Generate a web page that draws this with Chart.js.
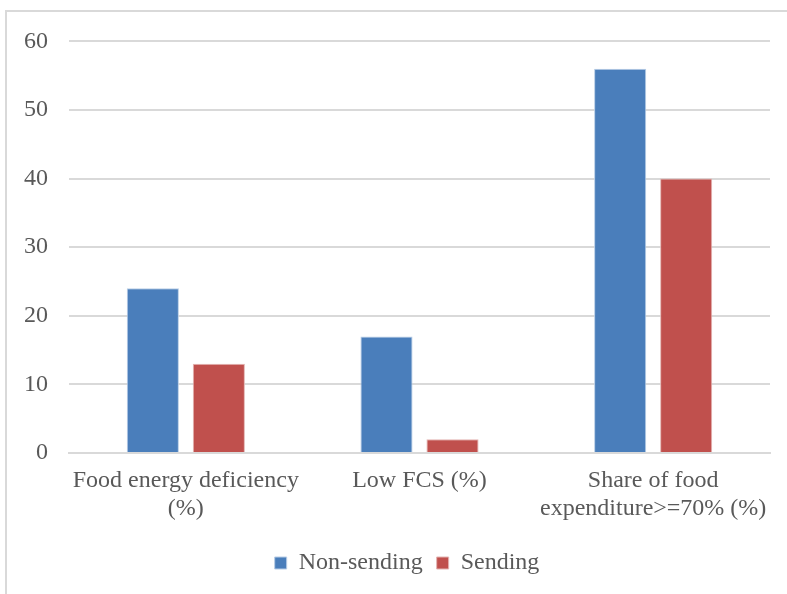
<!DOCTYPE html>
<html>
<head>
<meta charset="utf-8">
<script src="https://cdn.jsdelivr.net/npm/chart.js@4/dist/chart.umd.min.js"></script>
<style>
  html, body { margin: 0; padding: 0; background: #fff; }
  #frame {
    position: absolute; left: 5px; top: 10px; width: 790px; height: 600px;
    border-left: 2px solid #d9d9d9; border-top: 2px solid #d9d9d9;
  }
  #wrap { position: absolute; left: 7px; top: 6px; width: 780px; height: 588px; }
</style>
</head>
<body>
<div id="frame"></div>
<div id="wrap"><canvas id="canv"></canvas></div>
<script>
const categories = [
  ['Food energy deficiency', '(%)'],
  'Low FCS (%)',
  ['Share of food', 'expenditure>=70% (%)']
];
const nonSending = [24, 17, 56];
const sending = [13, 2, 40];
const yTicks = [0, 10, 20, 30, 40, 50, 60];

const serif = '"Liberation Serif", "Times New Roman", serif';
const grey = '#595959';

// left padding is only there to centre the legend; let the y labels use that space
const widenYAxis = {
  id: 'widenYAxis',
  afterLayout: (chart) => { chart.scales.y.left -= 37; }
};

let ctx = document.getElementById('canv').getContext('2d');
new Chart(ctx, {
  type: 'bar',
  plugins: [widenYAxis],
  data: {
    labels: categories,
    datasets: [
      {
        label: 'Non-sending',
        data: nonSending,
        backgroundColor: '#4a7ebb',
        borderColor: '#b8cde6',
        borderWidth: 1
      },
      {
        label: 'Sending',
        data: sending,
        backgroundColor: '#c0504d',
        borderColor: '#e3b4b2',
        borderWidth: 1
      }
    ]
  },
  options: {
    responsive: true,
    maintainAspectRatio: false,
    animation: false,
    categoryPercentage: 0.565,
    barPercentage: 0.79,
    layout: { padding: { top: 4, right: 17, bottom: 9, left: 37 } },
    plugins: {
      tooltip: { enabled: false },
      legend: {
        position: 'bottom',
        labels: {
          font: { family: serif, size: 24 },
          color: grey,
          boxWidth: 12,
          boxHeight: 12,
          padding: 14
        }
      }
    },
    scales: {
      x: {
        grid: { display: false, drawTicks: false },
        border: { color: '#d9d9d9', width: 2 },
        ticks: {
          font: { family: serif, size: 24, lineHeight: 1.1667 },
          color: grey,
          maxRotation: 0,
          autoSkip: false,
          padding: 14
        }
      },
      y: {
        min: 0,
        max: 60,
        afterFit: (axis) => { axis.width = 25; },
        afterBuildTicks: (axis) => { axis.ticks = yTicks.map(v => ({ value: v })); },
        grid: { color: '#d9d9d9', lineWidth: 2, drawTicks: false },
        border: { display: false },
        ticks: {
          font: { family: serif, size: 24 },
          color: grey,
          padding: 21
        }
      }
    }
  }
});
</script>
</body>
</html>
